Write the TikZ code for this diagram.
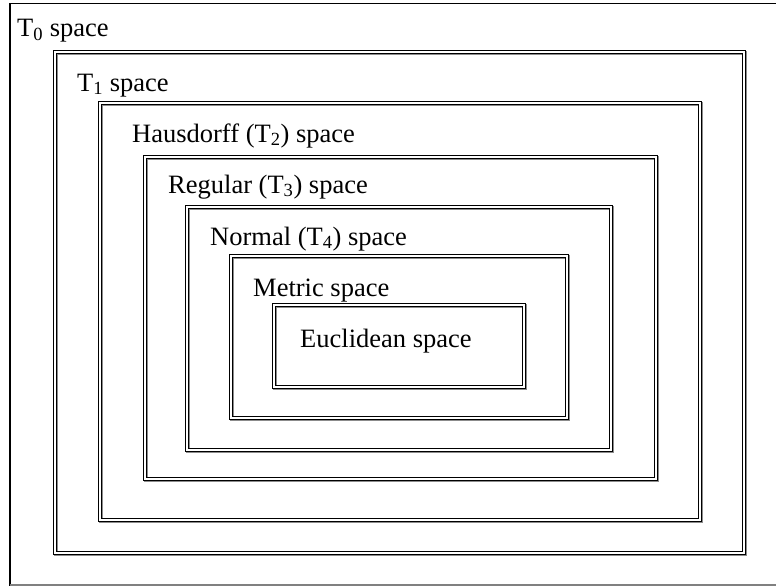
\documentclass[tikz,border=0pt]{standalone}
\usepackage{fontspec}
\setmainfont{Liberation Serif}
\begin{document}
\begin{tikzpicture}[x=1pt,y=-1pt,
  spacebox/.style={draw=black, line width=1.2pt, double=white, double distance=1.5pt},
  spaceshadow/.style={draw=black!45, line width=1.2pt, double=white, double distance=1.5pt},
  lbl/.style={anchor=base west, inner sep=0pt, font=\fontsize{26.5}{30}\selectfont}]
\useasboundingbox (0,0) rectangle (776,586);
% outermost frame, its right side runs off the page
\draw[black, line width=1.8pt] (10,586) -- (10,3.5) -- (790,3.5);
\draw[black!50, line width=1.8pt] (10,585) -- (790,585);
% nested spaces: corners of each double frame
\foreach \l/\t/\r/\b in {
  55/52/744/553,
  100/103/700/520,
  145/157/656/479,
  187/207/611/450,
  231/256/567/418,
  274/305/524/387} {
  \draw[spaceshadow] (\l+1,\t+1) rectangle (\r+1,\b+1);
  \draw[spacebox] (\l,\t) rectangle (\r,\b);
}
\node[lbl] (t0) at (17,37) {T\textsubscript{0} space};
\node[lbl] (t1) at (77,91) {T\textsubscript{1} space};
\node[lbl] (t2) at (132,142) {Hausdorff (T\textsubscript{2}) space};
\node[lbl] (t3) at (168,193) {Regular (T\textsubscript{3}) space};
\node[lbl] (t4) at (210,245) {Normal (T\textsubscript{4}) space};
\node[lbl] (met) at (253,296) {Metric space};
\node[lbl] (euc) at (300,347) {Euclidean space};
\end{tikzpicture}
\end{document}
